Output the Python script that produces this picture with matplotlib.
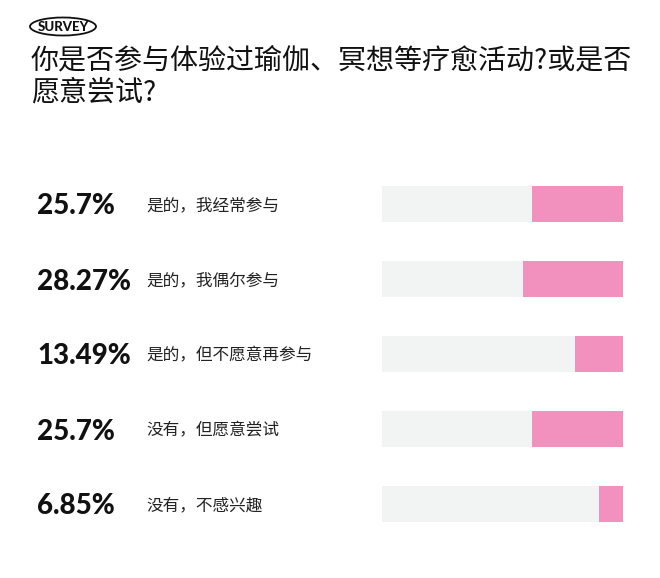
import matplotlib.pyplot as plt
from matplotlib.patches import Ellipse
import matplotlib.transforms as mtransforms

CJK = ['Noto Sans CJK SC', 'DejaVu Sans']
plt.rcParams['font.family'] = CJK

# ── Data ─────────────────────────────────────────────────────
title = '你是否参与体验过瑜伽、冥想等疗愈活动?或是否\n愿意尝试?'
labels = ['是的，我经常参与', '是的，我偶尔参与', '是的，但不愿意再参与',
          '没有，但愿意尝试', '没有，不感兴趣']
values = [25.7, 28.27, 13.49, 25.7, 6.85]
value_text = ['25.7%', '28.27%', '13.49%', '25.7%', '6.85%']

TRACK_MAX = 68.0
PINK = '#F291BE'
TRACK = '#F2F3F3'

W, H = 660, 578
fig = plt.figure(figsize=(W / 100, H / 100), dpi=100)

# full-figure pixel axes for decorations
bg = fig.add_axes([0, 0, 1, 1])
bg.set_xlim(0, W)
bg.set_ylim(H, 0)
bg.axis('off')

bg.add_patch(Ellipse((63, 26.5), 66, 18, fill=False, edgecolor='#111111', lw=1.3))
bg.text(63, 27, 'SURVEY', ha='center', va='center', fontsize=9.5,
        fontweight='black', family=['Lato', 'DejaVu Sans'], color='#111111')
bg.text(31, 45, title, ha='left', va='top', fontsize=20.2, color='#111111',
        linespacing=1.12)

# bar axes: centres at ~203 .. 500 px
y0, y1 = 204 - 37.5, 504 + 37.5
ax = fig.add_axes([382 / W, 1 - y1 / H, 241 / W, (y1 - y0) / H])
ypos = list(range(len(values)))
ax.barh(ypos, [TRACK_MAX] * len(values), height=0.48, color=TRACK)
ax.barh(ypos, values, left=[TRACK_MAX - v for v in values], height=0.48, color=PINK)
ax.set_xlim(0, TRACK_MAX)
ax.set_ylim(len(values) - 0.5, -0.5)
ax.axis('off')

tr = mtransforms.blended_transform_factory(fig.transFigure, ax.transData)
for y, vt, lab in zip(ypos, value_text, labels):
    fig.text(37 / W, y, vt, transform=tr, ha='left', va='center_baseline',
             fontsize=20, fontweight='black', family=['Lato', 'DejaVu Sans'],
             color='#111111')
    fig.text(146 / W, y, lab, transform=tr, ha='left', va='center_baseline',
             fontsize=12, color='#222222')

fig.savefig('out.png', dpi=100)
